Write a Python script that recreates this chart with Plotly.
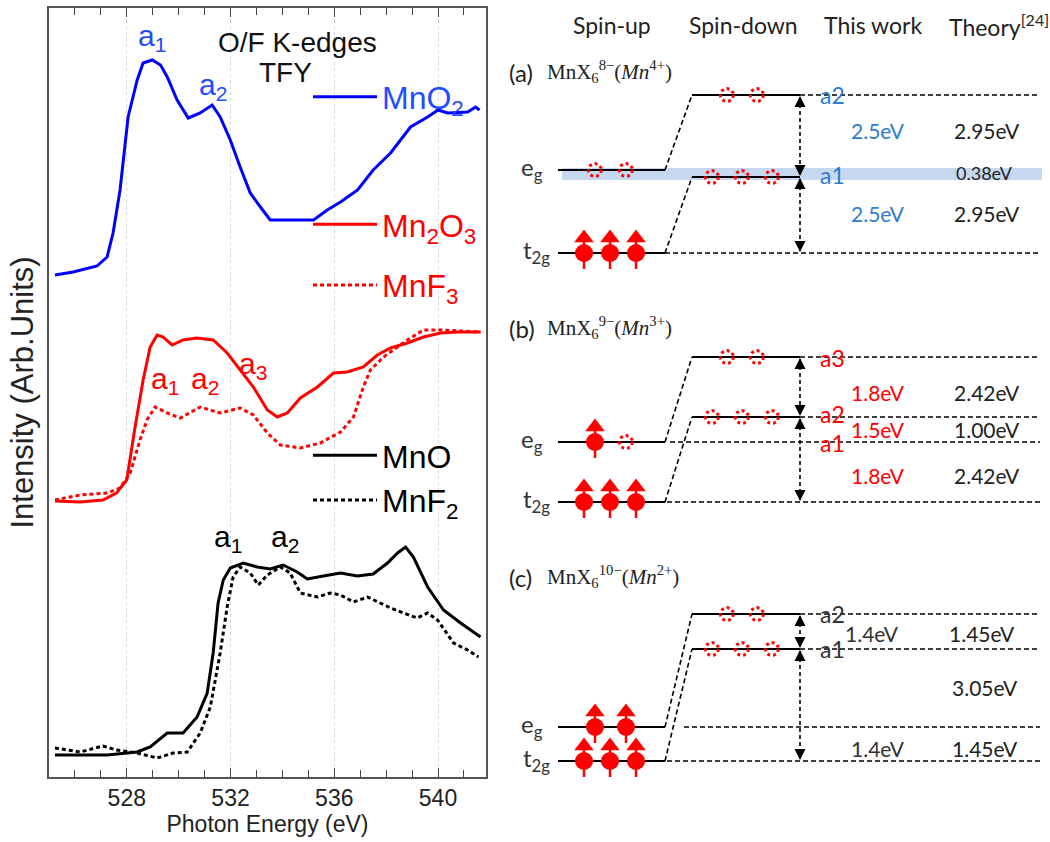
import numpy as np
import plotly.graph_objects as go

# ---------------- data: O/F K-edge TFY spectra (photon energy eV, arb. intensity) ----------------
mno2_e = [525.23, 525.93, 526.85, 527.24, 527.47, 527.74, 528.05, 528.4, 528.63, 528.98, 529.3, 529.56,
          529.94, 530.37, 530.83, 531.29, 531.6, 531.99, 532.37, 532.76, 533.15, 533.53, 534.3, 535.2,
          535.73, 536.24, 536.9, 537.5, 538.17, 538.94, 539.6, 540.0, 540.37, 541.14, 541.45, 541.6]
mno2_i = [502, 505, 511, 520, 544, 587, 660, 697, 714, 717, 712, 700,
          677, 659, 664, 672, 660, 637, 610, 584, 570, 557, 557, 557,
          567, 575, 587, 607, 624, 650, 660, 667, 664, 665, 670, 667]

mn2o3_e = [525.23, 526.2, 527.08, 527.6, 528.0, 528.3, 528.63, 528.9, 529.17, 529.4, 529.75, 530.17,
           530.7, 531.33, 531.87, 532.37, 532.88, 533.42, 533.8, 534.19, 534.69, 535.35, 535.97, 536.5,
           537.12, 537.66, 538.17, 538.82, 539.44, 540.1, 540.75, 541.64]
mn2o3_i = [276, 275, 277, 284, 297, 347, 397, 430, 442, 440, 432, 437,
           439, 437, 424, 407, 390, 367, 360, 364, 379, 390, 404, 405,
           410, 422, 429, 434, 440, 444, 445, 445]

mnf3_e = [525.23, 526.2, 527.24, 527.74, 528.13, 528.51, 528.78, 529.09, 529.56, 530.06, 530.83, 531.6,
          532.37, 532.88, 533.42, 533.92, 534.69, 535.46, 536.24, 536.74, 537.12, 537.39, 537.9, 538.82,
          539.44, 540.1, 541.64]
mnf3_i = [277, 282, 284, 289, 304, 337, 357, 370, 364, 359, 370, 364,
          369, 362, 344, 332, 329, 334, 345, 360, 390, 407, 420, 437,
          447, 447, 445]

mno_e = [525.23, 527.24, 528.4, 528.9, 529.56, 530.17, 530.71, 531.1, 531.33, 531.52, 531.72, 531.99,
         532.49, 533.03, 533.53, 534.03, 534.57, 534.96, 535.58, 536.24, 536.89, 537.5, 538.05, 538.44,
         538.75, 539.05, 539.6, 540.21, 540.87, 541.64]
mno_i = [22, 22, 25, 30, 44, 44, 60, 84, 124, 174, 197, 209,
         214, 210, 208, 212, 205, 198, 201, 204, 201, 203, 214, 224,
         230, 220, 190, 167, 154, 140]

mnf2_e = [525.23, 525.7, 526.2, 527.08, 527.6, 528.4, 529.17, 529.79, 530.33, 530.83, 531.22, 531.6,
          531.87, 532.1, 532.37, 532.76, 533.07, 533.42, 533.92, 534.3, 534.69, 535.35, 535.85, 536.24,
          536.74, 537.28, 537.78, 538.17, 538.67, 539.2, 539.6, 539.98, 540.6, 541.14, 541.56]
mnf2_i = [29, 27, 25, 31, 27, 24, 19, 24, 25, 44, 70, 124,
          170, 200, 210, 204, 192, 202, 210, 204, 184, 180, 184, 182,
          175, 180, 174, 169, 164, 159, 164, 157, 134, 127, 120]

x_ticks = [528, 532, 536, 540]

# ---------------- data: energy-level diagrams ----------------
col_headers = ["Spin-up", "Spin-down", "This work", "Theory<sup>[24]</sup>"]
panel_tags = ["(a)", "(b)", "(c)"]
panel_formula = ["MnX<sub>6</sub><sup>8−</sup>(<i>Mn</i><sup>4+</sup>)",
                 "MnX<sub>6</sub><sup>9−</sup>(<i>Mn</i><sup>3+</sup>)",
                 "MnX<sub>6</sub><sup>10−</sup>(<i>Mn</i><sup>2+</sup>)"]
up_eg_filled = [0, 1, 2]
up_t2g_filled = [3, 3, 3]
peak_labels = [["a2", "a1"], ["a3", "a2", "a1"], ["a2", "a1"]]
this_work = [["2.5eV", "2.5eV"], ["1.8eV", "1.5eV", "1.8eV"], ["1.4eV", "1.4eV"]]
theory = [["2.95eV", "0.38eV", "2.95eV"], ["2.42eV", "1.00eV", "2.42eV"], ["1.45eV", "3.05eV", "1.45eV"]]

# ---------------- styling / layout geometry ----------------
W, H = 1050, 842
BLUE_LINE = "#0000ff"
BLUE_TXT = "#1f4dff"
RED = "#ff0000"
DIAG_BLUE = "#2e7bcf"
SANS = "Liberation Sans, Arial, sans-serif"
DSANS = "Lato, Liberation Sans, sans-serif"
SERIF = "Liberation Serif, Times New Roman, serif"

fig = go.Figure()

dash_dot = "4px,3px"
fig.add_trace(go.Scatter(x=mno2_e, y=mno2_i, mode="lines", name="MnO<sub>2</sub>",
                         line=dict(color=BLUE_LINE, width=3), legend="legend"))
fig.add_trace(go.Scatter(x=mn2o3_e, y=mn2o3_i, mode="lines", name="Mn<sub>2</sub>O<sub>3</sub>",
                         line=dict(color=RED, width=3), legend="legend2", legendgroup="g1"))
fig.add_trace(go.Scatter(x=mnf3_e, y=mnf3_i, mode="lines", name="MnF<sub>3</sub>",
                         line=dict(color=RED, width=3, dash=dash_dot), legend="legend2", legendgroup="g2"))
fig.add_trace(go.Scatter(x=mno_e, y=mno_i, mode="lines", name="MnO",
                         line=dict(color="black", width=3), legend="legend3"))
fig.add_trace(go.Scatter(x=mnf2_e, y=mnf2_i, mode="lines", name="MnF<sub>2</sub>",
                         line=dict(color="black", width=3, dash=dash_dot), legend="legend3"))

ann = []
def txt(x, y, s, size, color, font=SANS, xref="x", yref="y", xanchor="center", yanchor="middle"):
    ann.append(dict(x=x, y=y, text=s, xref=xref, yref=yref, showarrow=False,
                    font=dict(size=size, color=color, family=font), xanchor=xanchor, yanchor=yanchor))

# peak labels on spectra
txt(528.98, 740, "a<sub>1</sub>", 30, BLUE_TXT)
txt(531.33, 691, "a<sub>2</sub>", 30, BLUE_TXT)
txt(529.48, 397, "a<sub>1</sub>", 30, RED)
txt(531.02, 397, "a<sub>2</sub>", 30, RED)
txt(532.88, 412, "a<sub>3</sub>", 30, RED)
txt(531.91, 239, "a<sub>1</sub>", 30, "black")
txt(534.11, 239, "a<sub>2</sub>", 30, "black")
txt(534.58, 735, "O/F K-edges", 28, "#111")
txt(534.11, 705, "TFY", 28, "#111")

# ---------------- right panel diagram (x2/y2 in canvas-like units) ----------------
R = dict(xaxis="x2", yaxis="y2", showlegend=False, hoverinfo="skip")
geo = [
    dict(head=72, hi=95, lo=177, eg=170, t2g=253,
         dashed=[(800, 95), (665, 253)],
         peak_y=[95, 175], work_y=[130, 213], work_x=[878, 878],
         theo_y=[130, 173, 213], theo_x=[987, 984, 987], theo_size=[21, 18, 21], color=DIAG_BLUE),
    dict(head=328, hi=357, lo=417, eg=442, t2g=502,
         dashed=[(800, 357), (800, 417), (670, 442), (667, 502)],
         peak_y=[358, 414, 443], work_y=[392, 429, 475], work_x=[878, 878, 878],
         theo_y=[392, 429, 475], theo_x=[987, 987, 987], theo_size=[21, 21, 21], color=RED),
    dict(head=577, hi=614, lo=649, eg=727, t2g=761,
         dashed=[(800, 614), (800, 649), (684, 727), (667, 761)],
         peak_y=[614, 649], work_y=[633, 748], work_x=[872, 878],
         theo_y=[633, 687, 748], theo_x=[982, 985, 985], theo_size=[21, 21, 21], color="#333"),
]
UP_X0, UP_X1 = 558, 665
DN_X0, DN_X1 = 692, 800
ARROW_X = 800
RIGHT_END = 1040
UP3 = [584, 610, 636]
UP2 = [595, 626]
DN3 = [712, 742, 772]
DN2 = [727, 757]

# band for (a)
fig.add_shape(type="rect", xref="x2", yref="y2", x0=562, x1=1042, y0=168, y1=180,
              fillcolor="#c5d8f0", line_width=0, layer="below")

for i, g in enumerate(geo):
    # headers
    txt(507, g["head"], panel_tags[i], 24, "#222", DSANS, "x2", "y2", xanchor="left")
    txt(545, g["head"] - 1, panel_formula[i], 21, "#222", SERIF, "x2", "y2", xanchor="left")
    txt(532, g["eg"] - 2, "e<sub>g</sub>", 24, "#333", DSANS, "x2", "y2")
    txt(536, g["t2g"] - 2, "t<sub>2g</sub>", 24, "#333", DSANS, "x2", "y2")
    # solid levels
    lx, ly = [], []
    for (x0, x1, y) in [(UP_X0, UP_X1, g["eg"]), (UP_X0, UP_X1, g["t2g"]),
                        (DN_X0, DN_X1, g["hi"]), (DN_X0, DN_X1, g["lo"])]:
        lx += [x0, x1, None]; ly += [y, y, None]
    fig.add_trace(go.Scatter(x=lx, y=ly, mode="lines", line=dict(color="black", width=2.2), **R))
    # dashed: connectors + horizontals
    dx, dy = [UP_X1, DN_X0, None, UP_X1, DN_X0, None], [g["eg"], g["hi"], None, g["t2g"], g["lo"], None]
    for (x0, y) in g["dashed"]:
        dx += [x0, RIGHT_END, None]; dy += [y, y, None]
    fig.add_trace(go.Scatter(x=dx, y=dy, mode="lines", line=dict(color="black", width=1.6, dash="5px,3px"), **R))
    # vertical double arrows
    vx, vy, ax_, ay_, sym = [], [], [], [], []
    for (ya, yb) in [(g["hi"], g["lo"]), (g["lo"], g["t2g"])]:
        vx += [ARROW_X, ARROW_X, None]; vy += [ya + 2, yb - 2, None]
        ax_ += [ARROW_X, ARROW_X]; ay_ += [ya + 1, yb - 1]; sym += ["arrow-up", "arrow-down"]
    fig.add_trace(go.Scatter(x=vx, y=vy, mode="lines", line=dict(color="black", width=1.6, dash="4px,3px"), **R))
    fig.add_trace(go.Scatter(x=ax_, y=ay_, mode="markers",
                             marker=dict(symbol=sym, size=11, color="black"), **R))
    # electrons: filled spin-up
    fx = UP3[:up_t2g_filled[i]] + UP2[:up_eg_filled[i]]
    fy = [g["t2g"]] * up_t2g_filled[i] + [g["eg"]] * up_eg_filled[i]
    sx, sy = [], []
    for x, y in zip(fx, fy):
        sx += [x, x, None]; sy += [y + 16, y - 16, None]
    fig.add_trace(go.Scatter(x=sx, y=sy, mode="lines", line=dict(color=RED, width=2.5), **R))
    fig.add_trace(go.Scatter(x=fx, y=[y - 15 for y in fy], mode="markers",
                             marker=dict(symbol="triangle-up", size=17, color=RED), **R))
    fig.add_trace(go.Scatter(x=fx, y=fy, mode="markers",
                             marker=dict(symbol="circle", size=18, color=RED), **R))
    # empty states: dotted circles
    ex = UP2[up_eg_filled[i]:] + DN2 + DN3
    ey = [g["eg"]] * (2 - up_eg_filled[i]) + [g["hi"]] * 2 + [g["lo"]] * 3
    th = np.linspace(0, 2 * np.pi, 25)
    cx, cy = [], []
    for x, y in zip(ex, ey):
        cx += list(x + 6.5 * np.cos(th)) + [None]; cy += list(y + 6.5 * np.sin(th)) + [None]
    fig.add_trace(go.Scatter(x=cx, y=cy, mode="lines", line=dict(color=RED, width=3, dash="3px,3px"), **R))
    # labels
    for lab, y in zip(peak_labels[i], g["peak_y"]):
        txt(818, y, lab, 23, g["color"], DSANS, "x2", "y2", xanchor="left")
    for val, y, x in zip(this_work[i], g["work_y"], g["work_x"]):
        txt(x, y, val, 21, g["color"], DSANS, "x2", "y2")
    for val, y, x, s in zip(theory[i], g["theo_y"], g["theo_x"], g["theo_size"]):
        txt(x, y, val, s, "#222", DSANS, "x2", "y2")

for s, x in zip(col_headers, [612, 743, 873, 999]):
    txt(x, 25, s, 23, "#222", DSANS, "x2", "y2")

def px2paper_x(p): return p / W
def px2paper_y(p): return 1 - p / H

leg_common = dict(bgcolor="rgba(0,0,0,0)", borderwidth=0, itemwidth=64, xanchor="left",
                  yanchor="middle", itemclick=False, itemdoubleclick=False)
fig.update_layout(
    width=W, height=H, margin=dict(l=0, r=0, t=0, b=0),
    paper_bgcolor="white", plot_bgcolor="white",
    font=dict(family=SANS, color="#222"),
    xaxis=dict(domain=[px2paper_x(49), px2paper_x(486)], range=[525, 541.85],
               tickvals=x_ticks, ticks="inside", ticklen=9, tickwidth=1.3, tickcolor="#444",
               minor=dict(dtick=1, tick0=525, ticks="inside", ticklen=7, tickwidth=1.3, tickcolor="#444", showgrid=False),
               showgrid=True, gridcolor="#d4d4d4", griddash="dot", gridwidth=1,
               showline=True, linecolor="#555", linewidth=1.5, mirror="allticks",
               tickfont=dict(size=23, color="#222"), zeroline=False, automargin=False,
               title=dict(text="Photon Energy (eV)", font=dict(size=23, color="#222"), standoff=6)),
    yaxis=dict(domain=[px2paper_y(777), px2paper_y(8)], range=[0, 769],
               showticklabels=False, ticks="", showgrid=False, zeroline=False,
               showline=True, linecolor="#555", linewidth=1.5, mirror=True, automargin=False,
               title=dict(text="Intensity (Arb.Units)", font=dict(size=31, color="#222"), standoff=4)),
    xaxis2=dict(domain=[px2paper_x(500), 1], range=[500, 1050], visible=False, fixedrange=True),
    yaxis2=dict(domain=[0, 1], range=[842, 0], visible=False, fixedrange=True),
    legend=dict(x=px2paper_x(308), y=px2paper_y(97), font=dict(size=32, color=BLUE_TXT), **leg_common),
    legend2=dict(x=px2paper_x(308), y=px2paper_y(255), font=dict(size=32, color=RED),
                 traceorder="grouped", tracegroupgap=16, **leg_common),
    legend3=dict(x=px2paper_x(308), y=px2paper_y(478), font=dict(size=32, color="black"), **leg_common),
    annotations=ann,
)

fig.write_html("out.html", config={"displayModeBar": False},
               post_script="document.body.style.margin='0';document.body.style.overflow='hidden';")
